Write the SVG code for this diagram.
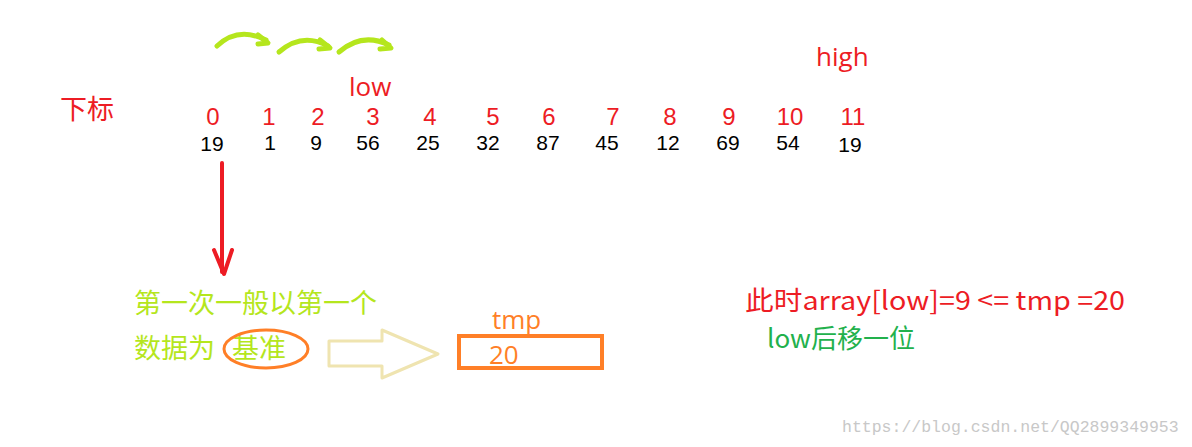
<svg xmlns="http://www.w3.org/2000/svg" width="1192" height="447" viewBox="0 0 1192 447">
<style>
text{font-family:"Microsoft YaHei","Noto Sans CJK SC","Liberation Sans",sans-serif}
.lat{font-family:"Open Sans","Liberation Sans",sans-serif}
.idx{fill:#ed1c24;font-size:24px;text-anchor:middle;font-family:"Liberation Sans",sans-serif}
.val{fill:#000;font-size:21px;text-anchor:middle;font-family:"Liberation Sans",sans-serif}
.red{fill:#ed1c24;font-size:26px}
.lg{fill:#b5e61d;font-size:27px}
.gr{fill:#22b14c;font-size:26px}
.or{fill:#ff7f27;font-size:26px}
.curve{fill:none;stroke:#b5e61d;stroke-width:5;stroke-linecap:round;stroke-linejoin:round}
</style>
<rect width="1192" height="447" fill="#fff"/>
<g id="labels">
<text x="60" y="119" class="red" style="font-size:27px">下标</text>
<text x="349" y="96" class="red lat">low</text>
<text x="816" y="66" class="red lat">high</text>
</g>
<g id="indices">
<text x="213" y="125" class="idx">0</text>
<text x="269" y="125" class="idx">1</text>
<text x="318" y="125" class="idx">2</text>
<text x="373" y="125" class="idx">3</text>
<text x="430" y="125" class="idx">4</text>
<text x="493" y="125" class="idx">5</text>
<text x="549" y="125" class="idx">6</text>
<text x="613" y="125" class="idx">7</text>
<text x="670" y="125" class="idx">8</text>
<text x="729" y="125" class="idx">9</text>
<text x="790" y="125" class="idx">10</text>
<text x="853" y="125" class="idx">11</text>
</g>
<g id="values">
<text x="212" y="151" class="val">19</text>
<text x="270" y="150" class="val">1</text>
<text x="316" y="150" class="val">9</text>
<text x="368" y="150" class="val">56</text>
<text x="428" y="150" class="val">25</text>
<text x="488" y="150" class="val">32</text>
<text x="548" y="150" class="val">87</text>
<text x="607" y="150" class="val">45</text>
<text x="668" y="150" class="val">12</text>
<text x="728" y="150" class="val">69</text>
<text x="788" y="150" class="val">54</text>
<text x="850" y="152" class="val">19</text>
</g>
<g id="connectors">
<path class="curve" d="M217 46 Q238 26 266 40"/>
<path class="curve" d="M258 35 L268 43 L258 44"/>
<path class="curve" d="M279 52 Q302 32 328 46"/>
<path class="curve" d="M320 40 L330 48 L319 49"/>
<path class="curve" d="M339 52 Q362 32 389 45"/>
<path class="curve" d="M382 40 L391 48 L380 49"/>
<path d="M222 163 L222 272" fill="none" stroke="#ed1c24" stroke-width="4" stroke-linecap="round"/>
<path d="M214 250 L224 274 L232 250" fill="none" stroke="#ed1c24" stroke-width="4" stroke-linecap="round" stroke-linejoin="round"/>
<path d="M329 341 L382 341 L382 330 L438 354 L382 378 L382 366 L329 366 Z" fill="none" stroke="#efe4b0" stroke-width="3" stroke-linejoin="round"/>
</g>
<g id="pivot-note">
<text x="134" y="313" class="lg">第一次一般以第一个</text>
<text x="134" y="358" class="lg">数据为</text>
<text x="232" y="358" class="lg">基准</text>
<ellipse cx="266" cy="349" rx="42" ry="19" fill="none" stroke="#ff7f27" stroke-width="3"/>
</g>
<g id="tmp">
<text x="492" y="329" class="or lat">tmp</text>
<rect x="459" y="336" width="143" height="32" fill="none" stroke="#ff7f27" stroke-width="4"/>
<text x="489" y="364" class="or lat">20</text>
</g>
<g id="note">
<text x="745" y="310" class="red" textLength="380" lengthAdjust="spacingAndGlyphs">此时array[low]=9 &lt;= tmp =20</text>
<text x="767" y="348" class="gr">low后移一位</text>
</g>
<text x="842" y="432" font-size="16.5" fill="#c8c8c8" style="font-family:'Liberation Mono',monospace">https://blog.csdn.net/QQ2899349953</text>
</svg>
